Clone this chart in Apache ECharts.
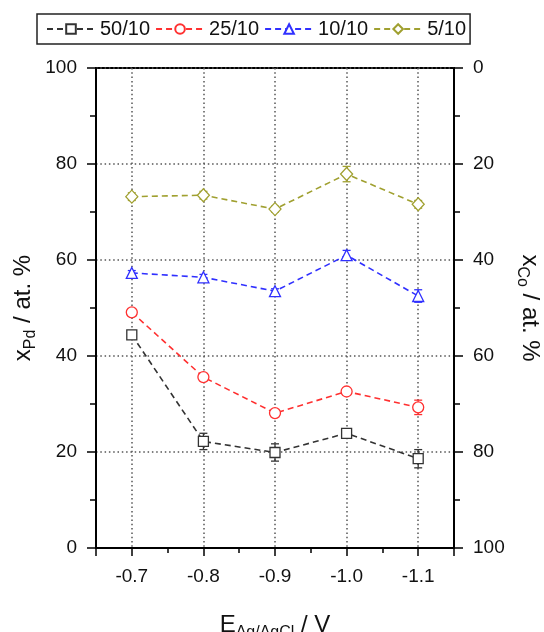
<!DOCTYPE html>
<html><head><meta charset="utf-8">
<script src="https://cdn.jsdelivr.net/npm/echarts@6/dist/echarts.min.js"></script>
<style>html,body{margin:0;padding:0;background:#fff}#c{width:544px;height:632px}</style>
</head><body><div id="c"></div>
<script>
const potentials = [-0.7, -0.8, -0.9, -1.0, -1.1];
const seriesNames = ['50/10', '25/10', '10/10', '5/10'];
const pd50 = [44.4, 22.2, 19.9, 23.9, 18.6];
const err50 = [0.8, 1.7, 1.8, 0.8, 1.9];
const pd25 = [49.1, 35.6, 28.1, 32.6, 29.3];
const err25 = [0.4, 0.4, 0.4, 0.4, 1.5];
const pd10 = [57.3, 56.4, 53.5, 61.0, 52.5];
const err10 = [0.5, 0.6, 0.5, 1.0, 1.3];
const pd5 = [73.2, 73.5, 70.6, 77.9, 71.6];
const err5 = [0.8, 0.8, 0.6, 1.6, 0.8];
const xRange = [-1.15, -0.65];
const yRange = [0, 100];

const colors = ['#333333', '#ff3030', '#3030ff', '#a0a030'];
const symbols = ['rect', 'circle', 'triangle', 'diamond'];
const symbolSizes = [10, 11, 11, [12, 13]];
const values = [pd50, pd25, pd10, pd5];
const errors = [err50, err25, err10, err5];
const FONT = 'Liberation Sans, Arial, sans-serif';

const chart = echarts.init(document.getElementById('c'), null, {renderer: 'canvas'});

const lineSeries = seriesNames.map((name, i) => ({
  name: name,
  type: 'line',
  data: potentials.map((x, j) => [x, values[i][j]]),
  symbol: symbols[i],
  symbolSize: symbolSizes[i],
  showAllSymbol: true,
  z: 5,
  itemStyle: {color: '#fff', borderColor: colors[i], borderWidth: 1.3},
  lineStyle: {color: colors[i], type: [6, 4], width: 1.6},
  emphasis: {disabled: true},
  animation: false
}));

const errSeries = seriesNames.map((name, i) => ({
  type: 'custom',
  z: 3,
  silent: true,
  animation: false,
  data: potentials.map((x, j) => [x, values[i][j], errors[i][j]]),
  encode: {x: 0, y: 1},
  renderItem: function (params, api) {
    const x = api.value(0), y = api.value(1), e = api.value(2);
    const top = api.coord([x, y + e]);
    const bot = api.coord([x, y - e]);
    const hw = 4;
    const st = {stroke: colors[i], lineWidth: 1.3};
    return {type: 'group', children: [
      {type: 'line', shape: {x1: top[0], y1: top[1], x2: bot[0], y2: bot[1]}, style: st},
      {type: 'line', shape: {x1: top[0] - hw, y1: top[1], x2: top[0] + hw, y2: top[1]}, style: st},
      {type: 'line', shape: {x1: bot[0] - hw, y1: bot[1], x2: bot[0] + hw, y2: bot[1]}, style: st}
    ]};
  }
}));

const titleRich = {
  b: {fontSize: 24, color: '#111', fontFamily: FONT},
  s: {fontSize: 16, color: '#111', fontFamily: FONT, padding: [16, 0, 0, 0]}
};
const dotted = {color: '#555', type: [1.5, 2.8], width: 1.5};

const option = {
  backgroundColor: '#fff',
  animation: false,
  textStyle: {fontFamily: FONT},
  grid: {left: 96, right: 90, top: 68, bottom: 84, containLabel: false, outerBoundsMode: 'none',
         show: true, borderColor: '#000', borderWidth: 2, backgroundColor: 'transparent'},
  legend: {
    data: seriesNames,
    left: 37, top: 14,
    padding: [5, 4, 5, 9],
    borderColor: '#222', borderWidth: 1.5,
    itemWidth: 48, itemHeight: 12, itemGap: 5,
    textStyle: {fontSize: 20, color: '#111', fontFamily: FONT}
  },
  xAxis: {
    type: 'value', min: xRange[0], max: xRange[1], inverse: true,
    splitNumber: 5,
    axisLine: {lineStyle: {color: '#000', width: 2}},
    axisTick: {length: 8, inside: false, lineStyle: {color: '#000', width: 1.5}},
    minorTick: {show: true, splitNumber: 2, length: 5, lineStyle: {color: '#000', width: 1.5}},
    splitLine: {show: true, lineStyle: dotted},
    axisLabel: {
      fontSize: 19, color: '#111', margin: 19, fontFamily: FONT,
      formatter: v => (Math.abs(v * 10 - Math.round(v * 10)) > 1e-6 ? '' : v.toFixed(1))
    },
    name: '{b|E}{s|Ag/AgCl}{b| / V}',
    nameLocation: 'middle', nameGap: 61, nameMoveOverlap: false,
    nameTextStyle: {rich: titleRich}
  },
  yAxis: [{
    type: 'value', min: yRange[0], max: yRange[1], interval: 20,
    axisLine: {show: true, lineStyle: {color: '#000', width: 2}},
    axisTick: {show: true, length: 9, lineStyle: {color: '#000', width: 1.5}},
    minorTick: {show: true, splitNumber: 2, length: 6, lineStyle: {color: '#000', width: 1.5}},
    splitLine: {show: true, lineStyle: dotted},
    axisLabel: {fontSize: 19, color: '#111', margin: 19, fontFamily: FONT},
    name: '{b|x}{s|Pd}{b| / at. %}',
    nameLocation: 'middle', nameGap: 57, nameRotate: 90, nameMoveOverlap: false,
    nameTextStyle: {rich: titleRich}
  }, {
    type: 'value', min: yRange[0], max: yRange[1], interval: 20, inverse: true, position: 'right',
    axisLine: {show: true, lineStyle: {color: '#000', width: 2}},
    axisTick: {show: true, length: 9, lineStyle: {color: '#000', width: 1.5}},
    minorTick: {show: true, splitNumber: 2, length: 6, lineStyle: {color: '#000', width: 1.5}},
    splitLine: {show: false},
    axisLabel: {fontSize: 19, color: '#111', margin: 19, fontFamily: FONT},
    name: '{b|x}{s|Co}{b| / at. %}',
    nameLocation: 'middle', nameGap: 60, nameRotate: -90, nameMoveOverlap: false,
    nameTextStyle: {rich: titleRich}
  }],
  series: errSeries.concat(lineSeries)
};
chart.setOption(option);
</script></body></html>
